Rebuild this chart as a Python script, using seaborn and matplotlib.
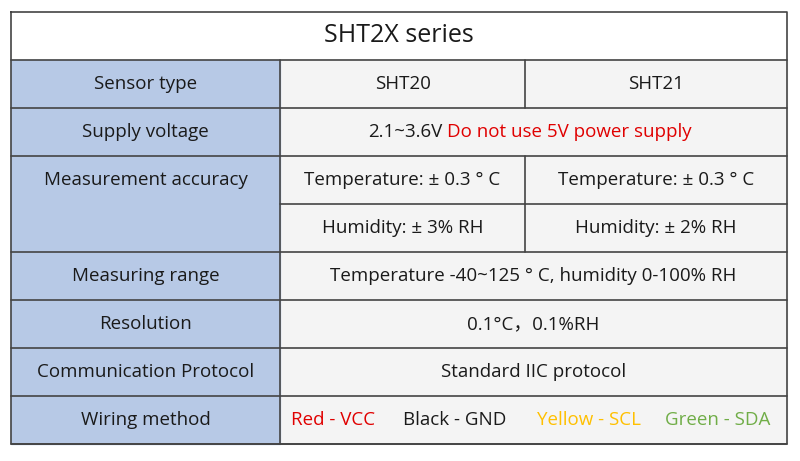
import matplotlib.pyplot as plt
import seaborn as sns

sns.set_theme(style="white")
plt.rcParams['font.family'] = ['Open Sans', 'Noto Sans CJK SC', 'DejaVu Sans']

title = "SHT2X series"
row_labels = ["Sensor type", "Supply voltage", "Measurement accuracy", "Measuring range",
              "Resolution", "Communication Protocol", "Wiring method"]
row_spans = [1, 1, 2, 1, 1, 1, 1]
sht20_cells = ["SHT20", "Temperature: ± 0.3 ° C", "Humidity: ± 3% RH"]
sht21_cells = ["SHT21", "Temperature: ± 0.3 ° C", "Humidity: ± 2% RH"]
range_text = "Temperature -40~125 ° C, humidity 0-100% RH"
resolution_text = "0.1°C，0.1%RH"
protocol_text = "Standard IIC protocol"
voltage_parts = [("2.1~3.6V", "#1a1a1a"), ("Do not use 5V power supply", "#e00000")]
wiring_parts = [("Red - VCC", "#e00000"), ("Black - GND", "#1a1a1a"),
                ("Yellow - SCL", "#ffc000"), ("Green - SDA", "#70ad47")]

x0, x1, xc, xm = 11, 787, 280, 525
top, title_bot, rh = 12, 60, 48.0
fs = 13.5
line = dict(color="#444444", lw=1.2)

fig = plt.figure(figsize=(8, 4.61), dpi=100)
ax = fig.add_axes([0, 0, 1, 1])
ax.set_xlim(0, 800)
ax.set_ylim(461, 0)
ax.axis("off")

n_rows = sum(row_spans)
bottom = title_bot + rh * n_rows
ax.fill_between([xc, x1], title_bot, bottom, color="#f4f4f4", zorder=0)
ax.fill_between([x0, xc], title_bot, bottom, color="#b7c9e6", zorder=0)
ax.text((x0 + x1) / 2, (top + title_bot) / 2, title, ha="center", va="center", fontsize=18, color="#1a1a1a")

y = title_bot
for label, span in zip(row_labels, row_spans):
    # the label of a merged row sits in its first sub-row, as in the source
    ax.text((x0 + xc) / 2, y + rh / 2, label, ha="center", va="center", fontsize=fs, color="#1a1a1a")
    y += rh * span
    ax.plot([x0, x1], [y, y], **line)
    if span == 2:
        ax.plot([xc, x1], [y - rh, y - rh], **line)

# two-column rows: header, accuracy temp, accuracy humidity
split_rows = [0, 2, 3]
for i, r in enumerate(split_rows):
    yc = title_bot + rh * (r + 0.5)
    ax.text((xc + xm) / 2, yc, sht20_cells[i], ha="center", va="center", fontsize=fs, color="#1a1a1a")
    ax.text((xm + x1) / 2, yc, sht21_cells[i], ha="center", va="center", fontsize=fs, color="#1a1a1a")
    ax.plot([xm, xm], [title_bot + rh * r, title_bot + rh * (r + 1)], **line)

for r, txt in [(4, range_text), (5, resolution_text), (6, protocol_text)]:
    ax.text((xc + x1) / 2, title_bot + rh * (r + 0.5), txt, ha="center", va="center", fontsize=fs, color="#1a1a1a")

# supply voltage with coloured part
yc = title_bot + rh * 1.5
ax.text(442, yc, voltage_parts[0][0], ha="right", va="center", fontsize=fs, color=voltage_parts[0][1])
ax.text(447, yc, voltage_parts[1][0], ha="left", va="center", fontsize=fs, color=voltage_parts[1][1])

yc = title_bot + rh * 7.5
for (txt, c), xp in zip(wiring_parts, [333, 455, 589, 718]):
    ax.text(xp, yc, txt, ha="center", va="center", fontsize=fs, color=c)

ax.plot([x0, x1, x1, x0, x0], [top, top, bottom, bottom, top], **line)
ax.plot([x0, x1], [title_bot, title_bot], **line)
ax.plot([xc, xc], [title_bot, bottom], **line)

fig.savefig("out.png", dpi=100)
